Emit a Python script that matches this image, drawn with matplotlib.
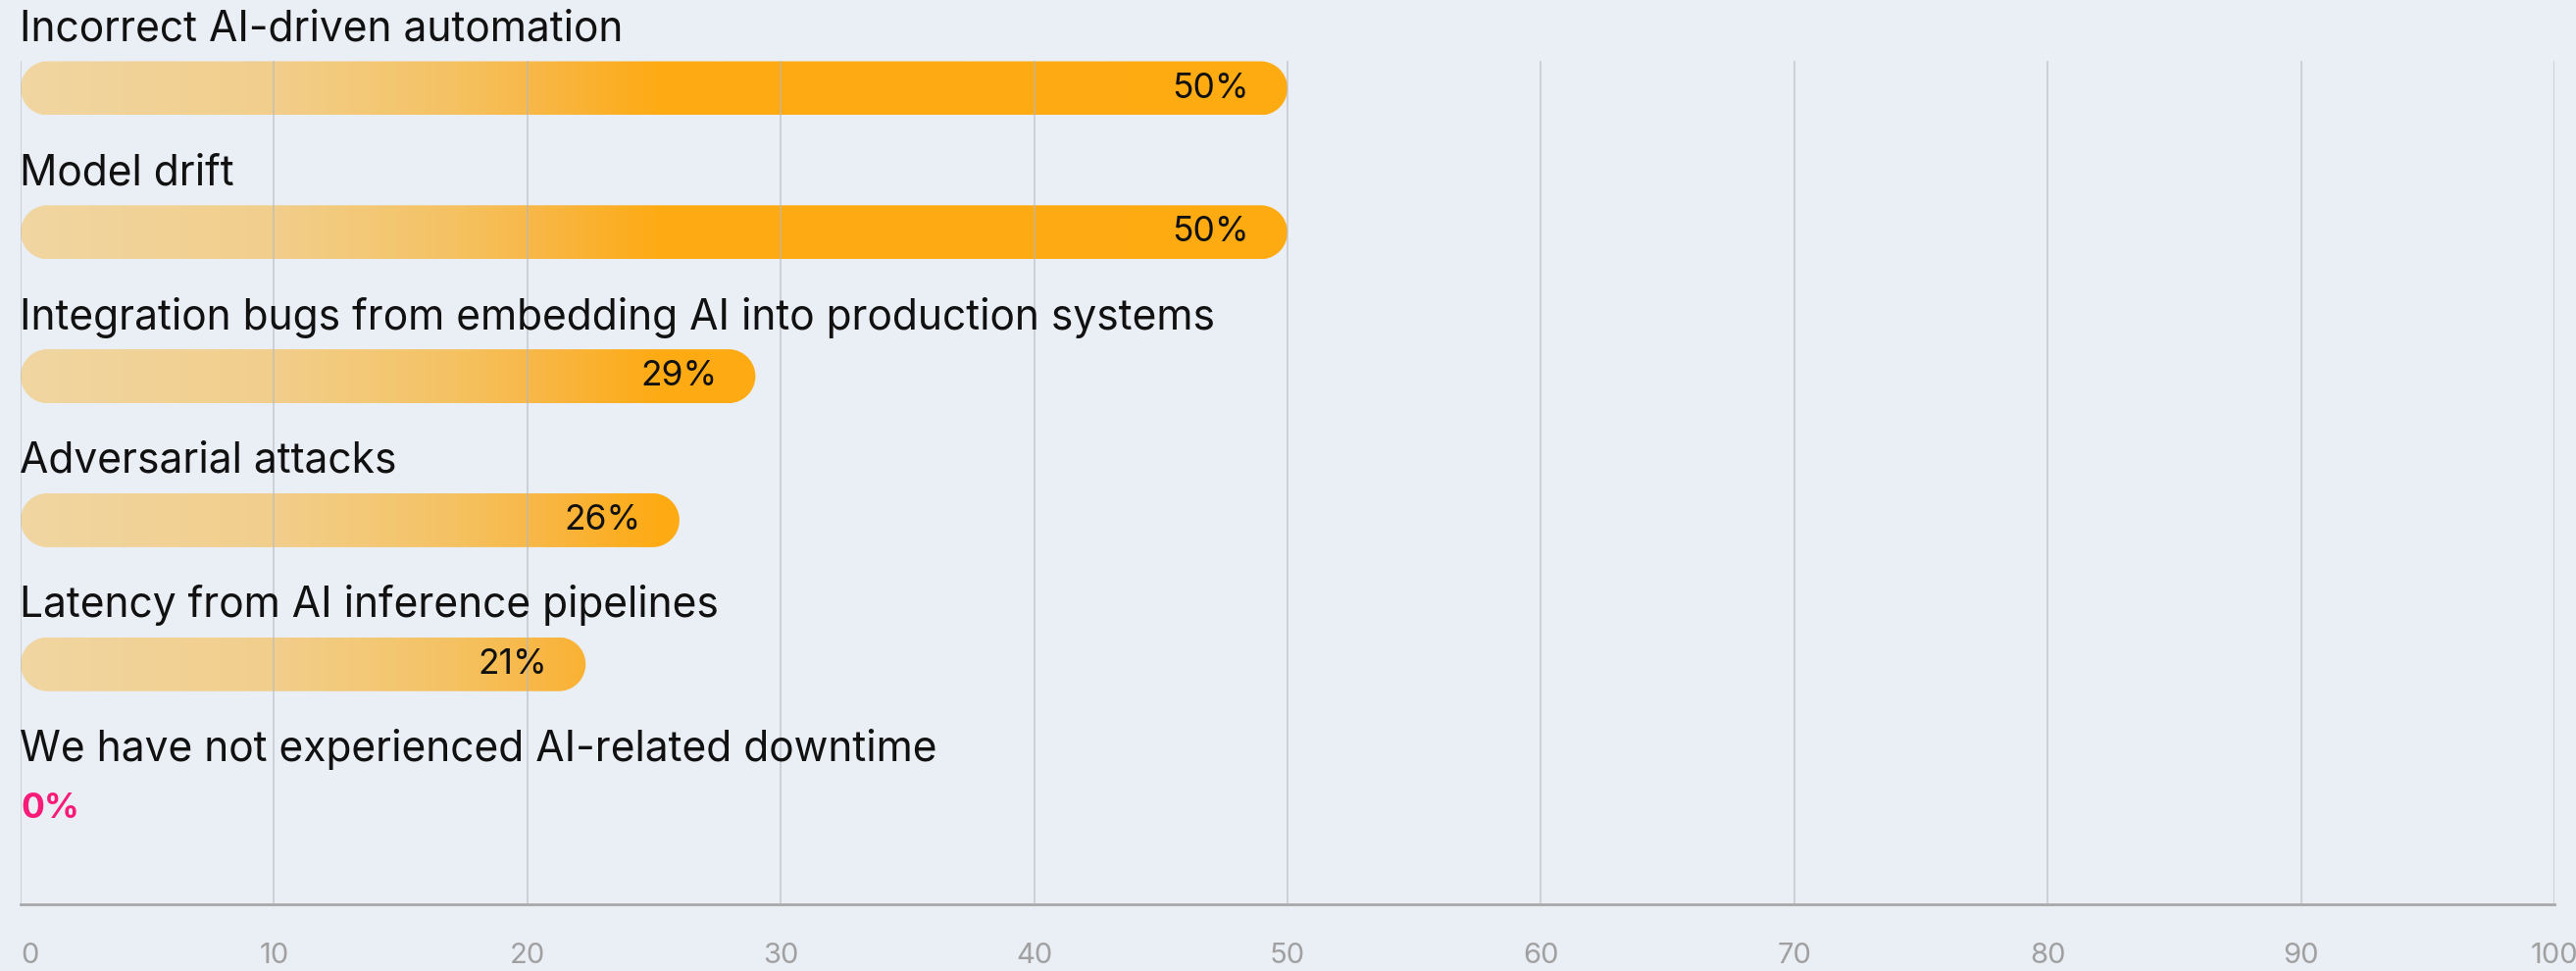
import matplotlib
matplotlib.use("Agg")
import matplotlib.pyplot as plt
import numpy as np
from matplotlib.patches import Polygon
from matplotlib.colors import LinearSegmentedColormap

# ---- data ----
categories = [
    "Incorrect AI-driven automation",
    "Model drift",
    "Integration bugs from embedding AI into production systems",
    "Adversarial attacks",
    "Latency from AI inference pipelines",
    "We have not experienced AI-related downtime",
]
values = [50, 50, 29, 26, 22.3, 0]
value_labels = ["50%", "50%", "29%", "26%", "21%", "0%"]
x_ticks = [0, 10, 20, 30, 40, 50, 60, 70, 80, 90, 100]

# ---- style ----
BG = "#EAEEF5"
plt.rcParams["font.family"] = ["Inter", "DejaVu Sans"]

W, H, DPI = 2627, 990, 100
fig = plt.figure(figsize=(W / DPI, H / DPI), dpi=DPI, facecolor=BG)
ax_left, ax_right, ax_top, ax_bottom = 21, 2605, 62, 922
ax = fig.add_axes([ax_left / W, (H - ax_bottom) / H, (ax_right - ax_left) / W, (ax_bottom - ax_top) / H])
ax.set_facecolor(BG)

ax_h_px = ax_bottom - ax_top
first_off = 28.0
spacing = 146.8
ylim = ((ax_h_px - first_off) / spacing, -first_off / spacing)

bar_h_px = 55.0
bar_h = bar_h_px / spacing
x_per_px = 100.0 / (ax_right - ax_left)
rx = (bar_h_px / 2) * x_per_px   # end-cap radius in x data units
ry = bar_h / 2                   # end-cap radius in y data units

cmap = LinearSegmentedColormap.from_list(
    "grad",
    [(0.0, "#F0D6A1"), (0.10, "#F2CE8B"), (0.17, "#F5C262"), (0.21, "#F9B53F"),
     (0.25, "#FEAB14"), (1.0, "#FFAB10")],
)
grad = np.linspace(0, 1, 1000).reshape(1, -1)


def pill(x0, x1, yc):
    t1 = np.linspace(np.pi / 2, 3 * np.pi / 2, 40)
    t2 = np.linspace(-np.pi / 2, np.pi / 2, 40)
    left = np.column_stack([x0 + rx + rx * np.cos(t1), yc + ry * np.sin(t1)])
    right = np.column_stack([x1 - rx + rx * np.cos(t2), yc + ry * np.sin(t2)])
    return np.vstack([left, right])


for i, (v, lab) in enumerate(zip(values, value_labels)):
    ax.annotate(categories[i], xy=(0, i), xytext=(-1, 60), textcoords="offset pixels",
                ha="left", va="center", fontsize=30.6, color="#111111", zorder=4)
    if v > 0:
        patch = Polygon(pill(0, v, i), closed=True, facecolor="none", edgecolor="none")
        ax.add_patch(patch)
        im = ax.imshow(grad, cmap=cmap, extent=(0, 100, i + bar_h / 2, i - bar_h / 2),
                       aspect="auto", interpolation="bilinear", zorder=1)
        im.set_clip_path(patch)
        ax.annotate(lab, xy=(v, i), xytext=(-39, 0), textcoords="offset pixels",
                    ha="right", va="center", fontsize=25.5, color="#111111", zorder=4)
    else:
        ax.annotate(lab, xy=(0, i), xytext=(0, 0), textcoords="offset pixels",
                    ha="left", va="center", fontsize=25.5, color="#F81B78",
                    fontweight="bold", zorder=4)

ax.set_xlim(0, 100)
ax.set_ylim(*ylim)

ax.set_xticks(x_ticks)
ax.set_xticklabels([str(t) for t in x_ticks])
ax.tick_params(axis="x", length=0, pad=28, labelsize=21, labelcolor="#A0A0A0")
ax.get_xticklabels()[0].set_ha("left")
ax.set_yticks([])
ax.grid(axis="x", color="#B4B8C0", linewidth=1.2, alpha=0.65, zorder=2)
ax.set_axisbelow(False)
for s in ["top", "right", "left"]:
    ax.spines[s].set_visible(False)
ax.spines["bottom"].set_color("#A8A8A8")
ax.spines["bottom"].set_linewidth(2)

fig.savefig("out.png", dpi=DPI, facecolor=BG)
